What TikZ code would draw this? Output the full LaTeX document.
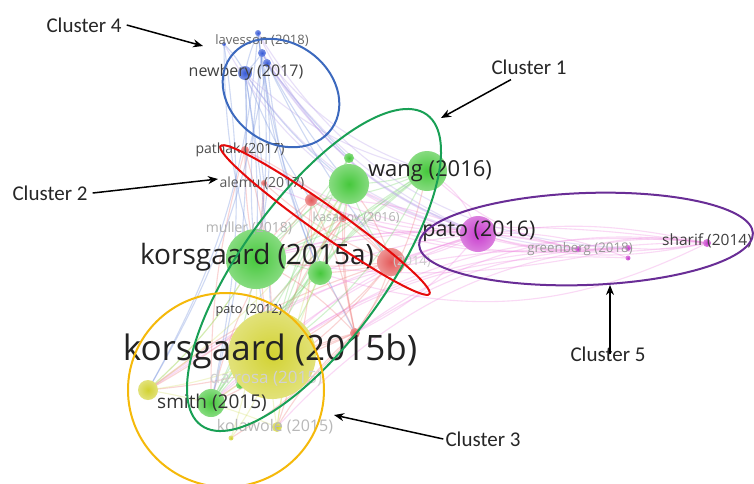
\documentclass[tikz,border=0pt]{standalone}
\usepackage{fontspec}
\setmainfont{Open Sans}
\newfontfamily\calloutfont{Carlito}
\usetikzlibrary{arrows.meta}
\pgfdeclarelayer{back}
\pgfdeclarelayer{edges}
\pgfsetlayers{back,edges,main}

% bubble colours
\definecolor{gnode}{RGB}{70,200,60}
\definecolor{rnode}{RGB}{228,90,90}
\definecolor{ynode}{RGB}{210,210,50}
\definecolor{mnode}{RGB}{200,60,205}
\definecolor{bnode}{RGB}{55,90,215}
% link colours
\definecolor{gedge}{RGB}{120,215,110}
\definecolor{redge}{RGB}{240,125,125}
\definecolor{pedge}{RGB}{240,140,225}
\definecolor{bedge}{RGB}{110,140,220}
\definecolor{vedge}{RGB}{185,160,235}
\definecolor{yedge}{RGB}{215,225,110}
% cluster outlines
\definecolor{cgreen}{RGB}{25,160,85}
\definecolor{cred}{RGB}{230,10,10}
\definecolor{cblue}{RGB}{60,105,190}
\definecolor{cyellow}{RGB}{245,185,10}
\definecolor{cpurple}{RGB}{105,45,150}
\definecolor{labeldark}{RGB}{35,35,35}

\newcommand\lblsize[1]{\fontsize{#1}{#1}\selectfont}

\begin{document}
\begin{tikzpicture}[x=1pt,y=-1pt,
  bub/.style={circle, inner sep=0pt, draw=none, shading=radial,
    inner color=#1, outer color=#1!65!white},
  lbl/.style={inner sep=0pt, text=labeldark},
  faint/.style={inner sep=0pt, text=black!30},
  edge/.style={line width=1.1pt, draw opacity=0.33},
  callout/.style={inner sep=0pt, font=\calloutfont\lblsize{21}, text=black!85},
  pointer/.style={-{Stealth[length=10pt,width=8pt]}, line width=1.5pt},
  outline/.style={line width=2pt}
]
\useasboundingbox (0,0) rectangle (754,483);
\begin{pgfonlayer}{back}
\fill[white] (0,0) rectangle (754,483);
\end{pgfonlayer}

% ---------- bubbles ----------
% green
\node[bub=gnode, minimum size=60pt] (g1) at (256,259) {};
\node[bub=gnode, minimum size=40pt] (g2) at (427,171) {};
\node[bub=gnode, minimum size=40pt] (g3) at (349,184) {};
\node[bub=gnode, minimum size=10pt] (g4) at (349,158) {};
\node[bub=gnode, minimum size=24pt] (g5) at (320,273) {};
\node[bub=gnode, minimum size=28pt] (g6) at (211,403) {};
\node[bub=gnode, minimum size=8pt]  (g7) at (240,385) {};
% red
\node[bub=rnode, minimum size=28pt] (r1) at (391,262) {};
\node[bub=rnode, minimum size=12pt] (r2) at (311,200) {};
\node[bub=rnode, minimum size=8pt]  (r3) at (343,218) {};
\node[bub=rnode, minimum size=8pt]  (r4) at (245,150) {};
\node[bub=rnode, minimum size=6pt]  (r5) at (264,183) {};
\node[bub=rnode, minimum size=10pt] (r6) at (355,333) {};
% yellow
\node[bub=ynode, minimum size=88pt] (y1) at (272,355) {};
\node[bub=ynode, minimum size=20pt] (y2) at (148,390) {};
\node[bub=ynode, minimum size=10pt] (y3) at (277,427) {};
\node[bub=ynode, minimum size=5pt]  (y4) at (231,438) {};
% magenta
\node[bub=mnode, minimum size=36pt] (m1) at (478,234) {};
\node[bub=mnode, minimum size=6pt]  (m2) at (578,249) {};
\node[bub=mnode, minimum size=6pt]  (m3) at (628,248) {};
\node[bub=mnode, minimum size=5pt]  (m4) at (628,258) {};
\node[bub=mnode, minimum size=8pt]  (m5) at (707,243) {};
% blue
\node[bub=bnode, minimum size=14pt] (b1) at (245,73) {};
\node[bub=bnode, minimum size=6pt]  (b2) at (258,33) {};
\node[bub=bnode, minimum size=8pt]  (b3) at (262,53) {};
\node[bub=bnode, minimum size=8pt]  (b4) at (267,63) {};
\node[bub=bnode, minimum size=4pt]  (b5) at (224,44) {};

% ---------- links ----------
\begin{pgfonlayer}{edges}
\foreach \a/\b/\k in {m1/r1/10, m1/r2/-12, m1/r3/8, m1/g1/-10, m1/g3/12, m1/g5/-8,
    m1/y1/-14, m1/r6/12, m1/m2/6, m1/m3/-10, m1/m5/-14, m1/m4/12, m2/m5/10,
    m3/m5/-8, m5/r1/-16, m5/g3/18, m5/y1/-20, m2/g1/-14, m3/r2/14, m4/y1/-18,
    m5/g5/22, m3/r6/-16, m2/r3/12, m5/g1/-10, m1/g6/-12, m1/y2/-8, m1/r4/14,
    m1/g2/-20, m2/g2/16, m3/g1/10, m5/r6/-22, m2/y2/-18, m1/r5/10, m5/m2/-12,
    m5/y3/-24, m3/g6/-20}
  \draw[edge, pedge] (\a.center) to[bend left=\k] (\b.center);
\foreach \a/\b/\k in {r1/g1/8, r1/g3/-10, r1/y1/12, r1/g6/14, r2/g1/-8, r2/y1/10,
    r2/g6/-12, r3/g1/6, r3/y1/-10, r3/y2/12, r6/g1/-10, r6/y1/8, r6/g6/-10,
    r6/y2/10, r4/g1/-6, r4/y1/8, r5/g1/6, r5/y1/-8, r5/r1/-10, r4/r1/10,
    r2/r6/8, r3/r6/-8, r1/r6/10, r6/y3/-8, r2/y3/10, r4/g6/-8, r6/g3/10,
    r6/g5/-6, r6/g2/-12, r1/g5/6, r3/g5/-8, r2/r1/6, r6/y4/8, r1/y2/-10}
  \draw[edge, redge] (\a.center) to[bend left=\k] (\b.center);
\foreach \a/\b/\k in {g1/g3/8, g1/g2/-10, g1/g5/6, g1/g6/10, g3/g2/-8, g3/g5/10,
    g2/g5/-12, g2/y1/14, g3/y1/-10, g4/g1/8, g4/y1/-10, g6/g2/16, g7/g3/-8,
    g1/y2/8, g6/g3/-10, g2/g6/-8, g4/g6/6, g5/y1/10, g7/g2/12, g5/g6/-8,
    g2/r2/10, g3/r1/-8}
  \draw[edge, gedge] (\a.center) to[bend left=\k] (\b.center);
\foreach \a/\b/\k in {y1/y2/8, y1/y3/-6, y1/y4/10, y2/g1/-8, y2/y3/6, y3/g5/8,
    y4/g1/-10, y1/g6/6, y2/g3/-10, y3/g3/8}
  \draw[edge, yedge] (\a.center) to[bend left=\k] (\b.center);
\foreach \a/\b/\k in {b1/g1/6, b1/g3/-8, b1/y1/4, b1/r2/-6, b1/g6/8, b3/g1/10,
    b3/g3/-6, b3/y1/-10, b4/g5/-8, b4/r1/-6, b2/g1/8, b2/y2/12, b5/g6/10,
    b5/g1/-8, b1/b2/6, b1/b3/-6, b3/b4/8, b1/b5/-8, b4/y2/10, b2/r6/-10,
    b1/r4/4, b3/r5/-6, b4/g4/-4, b2/g5/-8}
  \draw[edge, bedge] (\a.center) to[bend left=\k] (\b.center);
\foreach \a/\b/\k in {b2/m1/-22, b3/m1/-18, b1/m1/-20, b4/m2/-26, b2/m3/-28,
    b1/g2/-14, b3/g2/-16, b4/m1/-14, b5/m1/-24}
  \draw[edge, vedge] (\a.center) to[bend left=\k] (\b.center);
\end{pgfonlayer}

% ---------- labels ----------
\node[lbl, text=black!60, font=\lblsize{13}] (tlav) at (262,41) {lavesson (2018)};
\node[lbl, text=black!75, font=\lblsize{16}] (tnew) at (246,72) {newbery (2017)};
\node[lbl, text=black!70, font=\lblsize{14}] (tpat) at (240,150) {pathak (2017)};
\node[lbl, text=black!65, font=\lblsize{14}] (tale) at (262,183) {alemu (2017)};
\node[lbl, font=\lblsize{22}] (twan) at (430,171) {wang (2016)};
\node[faint, font=\lblsize{12.5}] (tkas) at (356,218) {kasabov (2016)};
\node[faint, font=\lblsize{14}] (tmul) at (249,228) {muller (2018)};
\node[lbl, font=\lblsize{28}] (tk15a) at (257,257) {korsgaard (2015a)};
\node[faint, text=black!20, font=\lblsize{13}] (tr1) at (412,262) {(2014)};
\node[lbl, font=\lblsize{21.5}] (tp16) at (479,231) {pato (2016)};
\node[lbl, text=black!40, font=\lblsize{13.3}] (tgre) at (580,249) {greenberg (2018)};
\node[lbl, text=black!75, font=\lblsize{15.5}] (tsha) at (707,241) {sharif (2014)};
\node[lbl, text=black!75, font=\lblsize{12.7}] (tp12) at (249,310) {pato (2012)};
\node[lbl, font=\lblsize{35}] (tk15b) at (270,351) {korsgaard (2015b)};
\node[faint, text=black!18, font=\lblsize{17}] (tdar) at (266,378) {da rosa (2015)};
\node[lbl, text=black!80, font=\lblsize{19}] (tsmi) at (212,403) {smith (2015)};
\node[faint, text=black!28, font=\lblsize{16}] (tkol) at (275,427) {kolawole (2015)};

% ---------- cluster outlines ----------
\draw[outline, cblue, rotate around={-35:(281,93)}] (281,93) ellipse [x radius=62pt, y radius=50pt];
\draw[outline, cgreen, rotate around={54:(314,270)}] (314,270) ellipse [x radius=192pt, y radius=72pt];
\draw[outline, cred, rotate around={-35.3:(325,220)}] (325,220) ellipse [x radius=128pt, y radius=14pt];
\draw[outline, cpurple, rotate around={2:(586,239)}] (586,239) ellipse [x radius=167pt, y radius=46pt];
\draw[outline, cyellow] (226,390) ellipse [x radius=98pt, y radius=97pt];

% ---------- callouts ----------
\node[callout] (c4) at (84,25) {Cluster 4};
\node[callout] (c1) at (529,67) {Cluster 1};
\node[callout] (c2) at (50,193) {Cluster 2};
\node[callout] (c3) at (483,439) {Cluster 3};
\node[callout] (c5) at (608,354) {Cluster 5};
\coordinate (p4) at (203,46);
\coordinate (p1) at (441,118);
\coordinate (p2) at (218,179);
\coordinate (p3) at (334,415);
\coordinate (p5) at (610,285);
\draw[pointer] ([xshift=5pt]c4.east) -- (p4);
\draw[pointer] ([xshift=-18pt,yshift=-5pt]c1.south) -- (p1);
\draw[pointer] ([xshift=5pt]c2.east) -- (p2);
\draw[pointer] ([xshift=-2pt]c3.west) -- (p3);
\draw[pointer] ([xshift=2pt,yshift=-8pt]c5.north) -- (p5);
\end{tikzpicture}
\end{document}
